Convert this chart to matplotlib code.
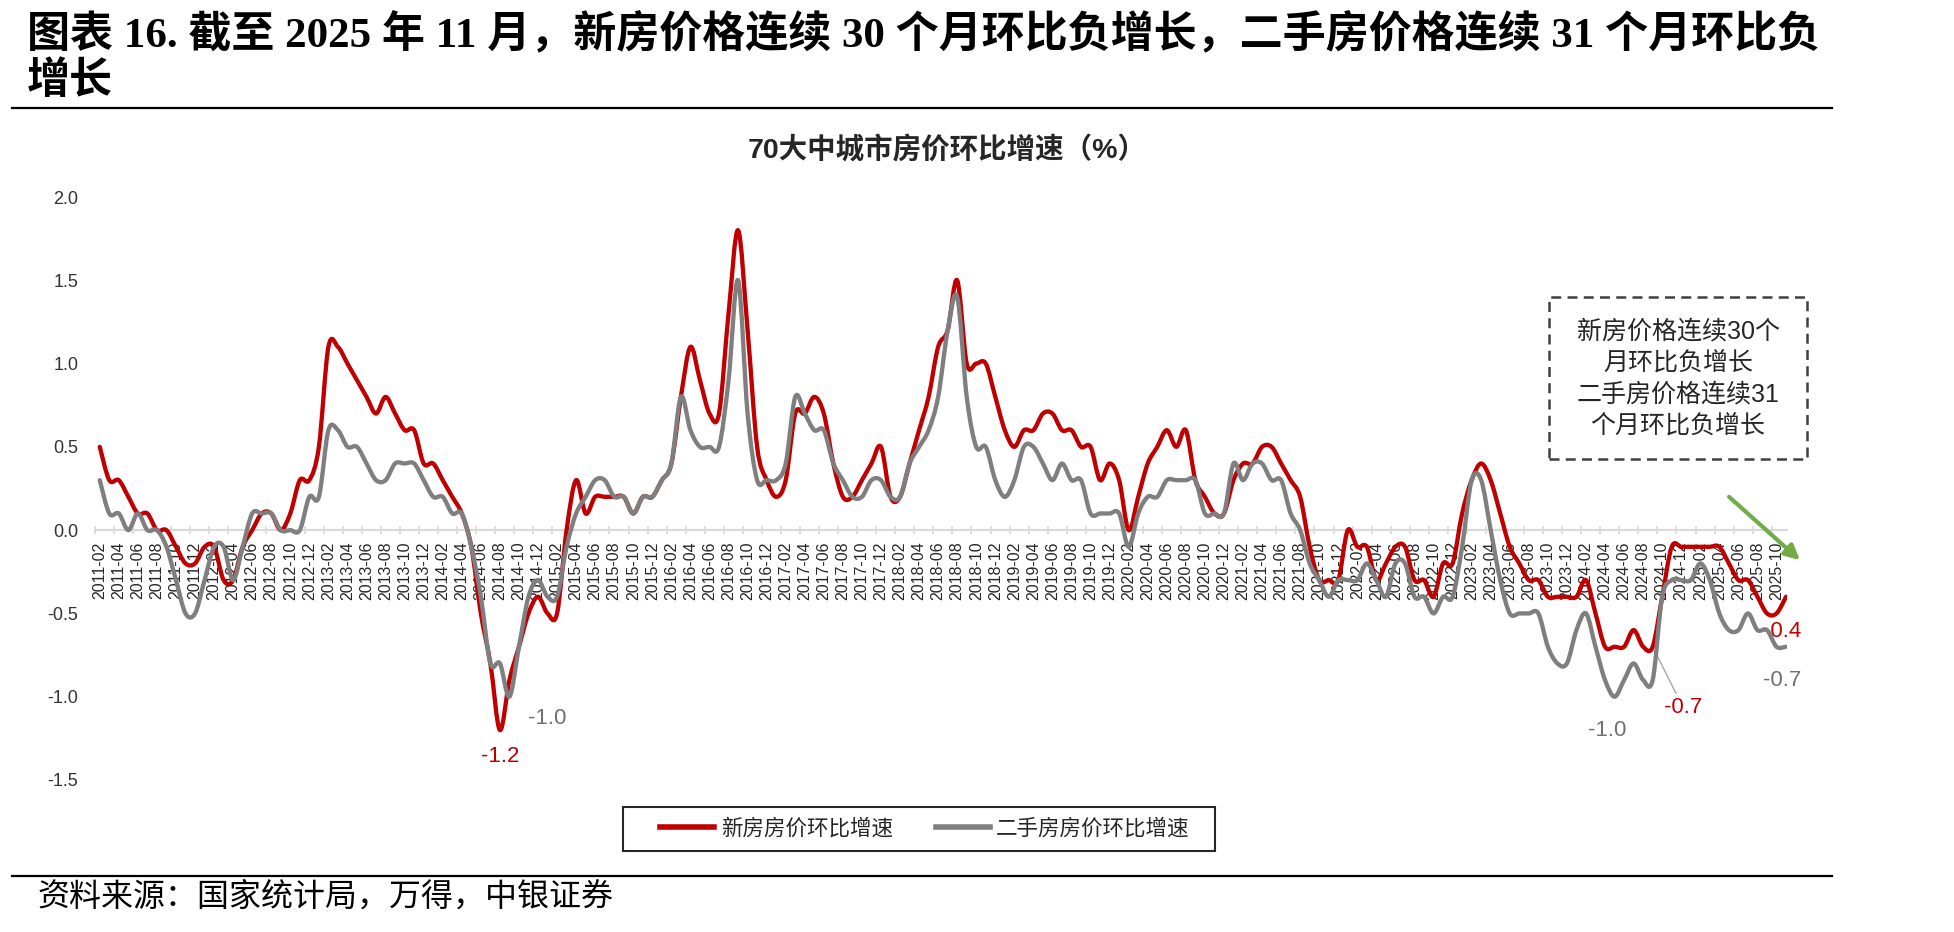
import matplotlib
matplotlib.use('Agg')
import matplotlib.pyplot as plt
import pandas as pd
from matplotlib.lines import Line2D
from matplotlib.path import Path
from matplotlib.patches import Rectangle, FancyArrowPatch, PathPatch

plt.rcParams['font.family'] = ['Liberation Sans', 'Noto Sans CJK SC']
plt.rcParams['axes.unicode_minus'] = False

W, H = 1954, 932

# 月份：2011-02 至 2025-11
months = [p.strftime('%Y-%m') for p in pd.period_range('2011-02', '2025-11', freq='M')]

# 新房价格环比增速（%）
new_home = [
    0.5, 0.3, 0.3, 0.2, 0.1, 0.1, 0.0, 0.0, -0.1, -0.2, -0.2,          # 2011
    -0.1, -0.1, -0.3, -0.3, -0.1, 0.0, 0.1, 0.1, 0.0, 0.1, 0.3, 0.3,    # 2012
    0.5, 1.1, 1.1, 1.0, 0.9, 0.8, 0.7, 0.8, 0.7, 0.6, 0.6, 0.4,         # 2013
    0.4, 0.3, 0.2, 0.1, -0.1, -0.5, -0.8, -1.2, -0.9, -0.7, -0.5, -0.4, # 2014
    -0.5, -0.5, 0.0, 0.3, 0.1, 0.2, 0.2, 0.2, 0.2, 0.1, 0.2, 0.2,      # 2015
    0.3, 0.4, 0.8, 1.1, 0.9, 0.7, 0.7, 1.3, 1.8, 1.2, 0.5, 0.3,         # 2016
    0.2, 0.3, 0.7, 0.7, 0.8, 0.7, 0.4, 0.2, 0.2, 0.3, 0.4, 0.5,         # 2017
    0.2, 0.2, 0.4, 0.6, 0.8, 1.1, 1.2, 1.5, 1.0, 1.0, 1.0, 0.8,         # 2018
    0.6, 0.5, 0.6, 0.6, 0.7, 0.7, 0.6, 0.6, 0.5, 0.5, 0.3, 0.4,         # 2019
    0.3, 0.0, 0.2, 0.4, 0.5, 0.6, 0.5, 0.6, 0.3, 0.2, 0.1, 0.1,         # 2020
    0.3, 0.4, 0.4, 0.5, 0.5, 0.4, 0.3, 0.2, -0.1, -0.3, -0.3, -0.3,     # 2021
    0.0, -0.1, -0.1, -0.3, -0.2, -0.1, -0.1, -0.3, -0.3, -0.4, -0.2, -0.2,  # 2022
    0.1, 0.3, 0.4, 0.3, 0.1, -0.1, -0.2, -0.3, -0.3, -0.4, -0.4, -0.4,  # 2023
    -0.4, -0.3, -0.5, -0.7, -0.7, -0.7, -0.6, -0.7, -0.7, -0.4, -0.1, -0.1,  # 2024
    -0.1, -0.1, -0.1, -0.1, -0.2, -0.3, -0.3, -0.4, -0.5, -0.5, -0.4,   # 2025
]

# 二手房价格环比增速（%）
second_hand = [
    0.3, 0.1, 0.1, 0.0, 0.1, 0.0, 0.0, -0.1, -0.3, -0.5, -0.5,         # 2011
    -0.3, -0.1, -0.1, -0.3, -0.1, 0.1, 0.1, 0.1, 0.0, 0.0, 0.0, 0.2,    # 2012
    0.2, 0.6, 0.6, 0.5, 0.5, 0.4, 0.3, 0.3, 0.4, 0.4, 0.4, 0.3,         # 2013
    0.2, 0.2, 0.1, 0.1, -0.1, -0.4, -0.8, -0.8, -1.0, -0.7, -0.4, -0.3, # 2014
    -0.4, -0.4, -0.1, 0.1, 0.2, 0.3, 0.3, 0.2, 0.2, 0.1, 0.2, 0.2,      # 2015
    0.3, 0.4, 0.8, 0.6, 0.5, 0.5, 0.5, 0.9, 1.5, 0.7, 0.3, 0.3,         # 2016
    0.3, 0.4, 0.8, 0.7, 0.6, 0.6, 0.4, 0.3, 0.2, 0.2, 0.3, 0.3,         # 2017
    0.2, 0.2, 0.4, 0.5, 0.6, 0.8, 1.2, 1.4, 0.8, 0.5, 0.5, 0.3,         # 2018
    0.2, 0.3, 0.5, 0.5, 0.4, 0.3, 0.4, 0.3, 0.3, 0.1, 0.1, 0.1,         # 2019
    0.1, -0.1, 0.1, 0.2, 0.2, 0.3, 0.3, 0.3, 0.3, 0.1, 0.1, 0.1,        # 2020
    0.4, 0.3, 0.4, 0.4, 0.3, 0.3, 0.1, 0.0, -0.2, -0.3, -0.4, -0.3,     # 2021
    -0.3, -0.3, -0.2, -0.3, -0.4, -0.2, -0.2, -0.4, -0.4, -0.5, -0.4, -0.4,  # 2022
    -0.1, 0.3, 0.3, 0.0, -0.3, -0.5, -0.5, -0.5, -0.5, -0.7, -0.8, -0.8,    # 2023
    -0.6, -0.5, -0.7, -0.9, -1.0, -0.9, -0.8, -0.9, -0.9, -0.4, -0.3, -0.3,  # 2024
    -0.3, -0.2, -0.3, -0.5, -0.6, -0.6, -0.5, -0.6, -0.6, -0.7, -0.7,   # 2025
]

x = list(range(len(months)))
red = '#c00000'
grey = '#7f7f7f'


def smooth_path(xs, ys):
    # 平滑折线（与 Excel 平滑线相同的三次贝塞尔画法），只改变画法，不改变数据
    n = len(xs)
    verts = [(xs[0], ys[0])]
    codes = [Path.MOVETO]
    for i in range(n - 1):
        a, b = max(i - 1, 0), min(i + 2, n - 1)
        c1 = (xs[i] + (xs[i + 1] - xs[a]) / 6, ys[i] + (ys[i + 1] - ys[a]) / 6)
        c2 = (xs[i + 1] - (xs[b] - xs[i]) / 6, ys[i + 1] - (ys[b] - ys[i]) / 6)
        verts += [c1, c2, (xs[i + 1], ys[i + 1])]
        codes += [Path.CURVE4] * 3
    return Path(verts, codes)


fig = plt.figure(figsize=(W / 100, H / 100), dpi=100)
ax = fig.add_axes([95 / W, 152 / H, (1787 - 95) / W, (780 - 197) / H])
ax.patch.set_alpha(0)

ax.add_patch(PathPatch(smooth_path(x, new_home), fill=False, edgecolor=red, lw=3.1,
                       joinstyle='round', capstyle='round', zorder=3))
ax.add_patch(PathPatch(smooth_path(x, second_hand), fill=False, edgecolor=grey, lw=3.1,
                       joinstyle='round', capstyle='round', zorder=4))

ax.set_ylim(-1.5, 2.0)
ax.set_xlim(-0.42, len(months) - 0.9)
yt = [2.0, 1.5, 1.0, 0.5, 0.0, -0.5, -1.0, -1.5]
ax.set_yticks(yt)
ax.set_yticklabels(['%.1f' % v for v in yt])
ax.tick_params(axis='y', length=0, pad=12, labelsize=13, labelcolor='#333333')

for s in ['top', 'right', 'left']:
    ax.spines[s].set_visible(False)
ax.spines['bottom'].set_position(('data', 0))
ax.spines['bottom'].set_color('#d9d9d9')
ax.spines['bottom'].set_linewidth(1.5)

ax.set_xticks(x[::2])
ax.set_xticklabels(months[::2], rotation=90, fontsize=11.5, color='#262626')
ax.set_xticks([i - 0.5 for i in x[::2]], minor=True)
ax.tick_params(axis='x', which='major', length=0, pad=8)
ax.tick_params(axis='x', which='minor', length=6, direction='inout', color='#d9d9d9', width=1.2)

# 数据标签
lab = dict(fontsize=16, ha='center', va='center', textcoords='offset points')
ax.annotate('-1.2', (42, new_home[42]), xytext=(0, -19), color=red, **lab)
ax.annotate('-1.0', (43, second_hand[43]), xytext=(27, -16), color='#707070', **lab)
ax.annotate('-1.0', (159, second_hand[159]), xytext=(-5, -24), color='#707070', **lab)
ax.annotate('-0.7', (163, new_home[163]), xytext=(22, -44), color=red,
            arrowprops=dict(arrowstyle='-', color='#a6a6a6', lw=1, shrinkA=1, shrinkB=3), **lab)
ax.annotate('-0.4', (177, new_home[177]), xytext=(-3, -25), color=red, **lab)
ax.annotate('-0.7', (177, second_hand[177]), xytext=(-3, -24), color='#707070', **lab)

# 图例
handles = [Line2D([], [], color=red, lw=4), Line2D([], [], color=grey, lw=4)]
leg = fig.legend(handles, ['新房房价环比增速', '二手房房价环比增速'], loc='center',
                 bbox_to_anchor=(925 / W, 1 - 829 / H), ncol=2, fontsize=15.5, frameon=False,
                 handlelength=2.5, columnspacing=2.0, handletextpad=0.3)
for t in leg.get_texts():
    t.set_color('#262626')
fig.add_artist(Rectangle((623 / W, 1 - 851 / H), (1215 - 623) / W, (851 - 807) / H,
                         transform=fig.transFigure, fill=False, edgecolor='#262626', lw=1.5))

# 标题
title_font = ['Liberation Serif', 'Noto Sans CJK SC']
fig.text(27 / W, 1 - 35 / H,
         '图表 16. 截至 2025 年 11 月，新房价格连续 30 个月环比负增长，二手房价格连续 31 个月环比负',
         fontsize=31, fontweight='bold', family=title_font, ha='left', va='center')
fig.text(27 / W, 1 - 82 / H, '增长', fontsize=31, fontweight='bold', family=title_font,
         ha='left', va='center')
fig.add_artist(Line2D([12 / W, 1832 / W], [1 - 108 / H] * 2, color='black', lw=1.6))
fig.add_artist(Line2D([12 / W, 1832 / W], [1 - 876 / H] * 2, color='black', lw=1.6))

fig.text(947 / W, 1 - 150 / H, '70大中城市房价环比增速（%）', fontsize=20.5, fontweight='bold',
         ha='center', va='center', color='#262626')

# 注释框
fig.add_artist(Rectangle((1549 / W, 1 - 459 / H), (1807 - 1549) / W, (459 - 297) / H,
                         transform=fig.transFigure, fill=False, edgecolor='#404040',
                         lw=1.8, linestyle=(0, (4, 2.5)), zorder=5))
box_lines = ['新房价格连续30个', '月环比负增长', '二手房价格连续31', '个月环比负增长']
for k, t in enumerate(box_lines):
    fig.text(1678 / W, 1 - (331 + 31.5 * k) / H, t, fontsize=18, ha='center', va='center',
             color='#262626')

fig.add_artist(FancyArrowPatch((1727 / W, 1 - 495 / H), (1802 / W, 1 - 562 / H),
                               transform=fig.transFigure, arrowstyle='-|>', mutation_scale=22,
                               color='#70ad47', lw=3, zorder=5))

fig.text(37 / W, 1 - 897 / H, '资料来源：国家统计局，万得，中银证券', fontsize=23,
         ha='left', va='center', color='black')

fig.savefig('out.png', dpi=100)
